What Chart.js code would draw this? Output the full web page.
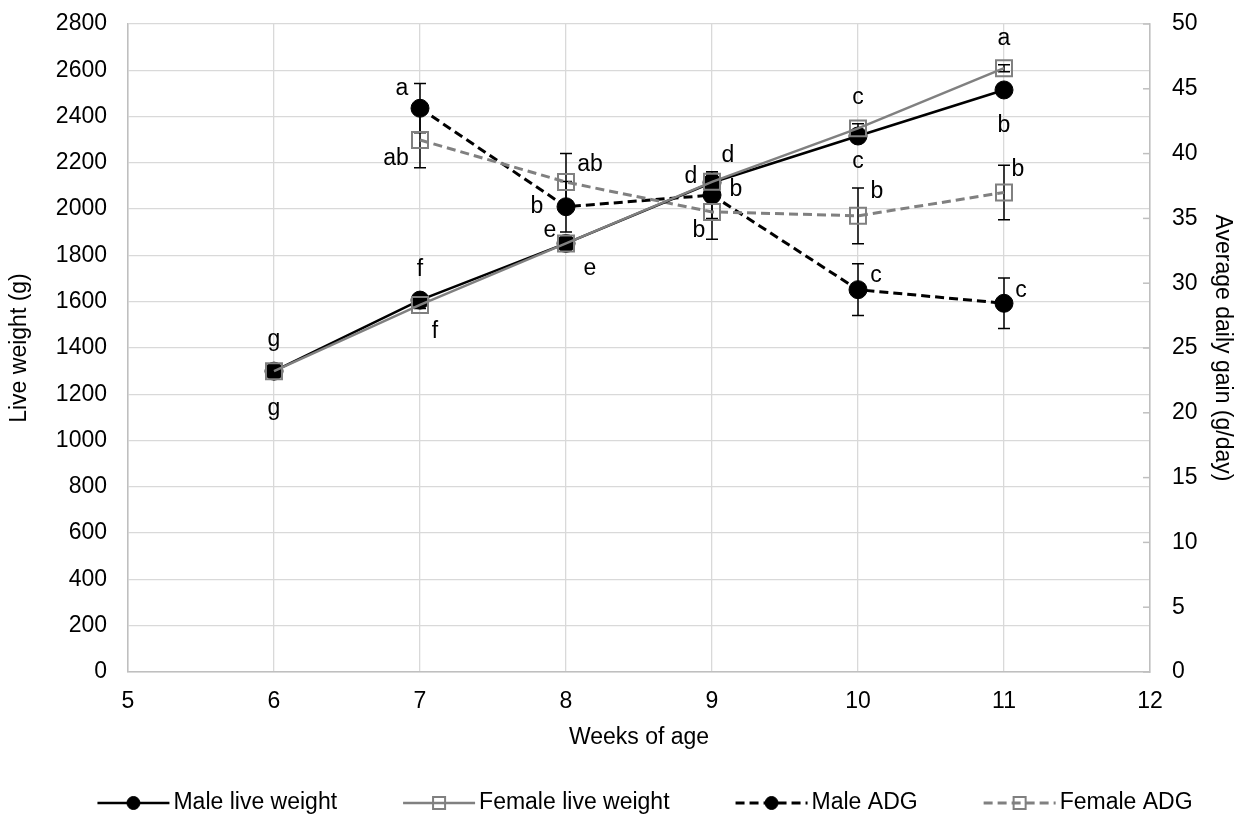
<!DOCTYPE html>
<html>
<head>
<meta charset="utf-8">
<script src="https://cdn.jsdelivr.net/npm/chart.js@4.4.0/dist/chart.umd.min.js"></script>
<style>
  html, body { margin: 0; background: #fff; }
  #wrap { width: 1239px; height: 814px; position: relative; }
</style>
</head>
<body>
<div id="wrap"><canvas id="chart"></canvas></div>
<script>
// --- Data ---
const weeks = [6, 7, 8, 9, 10, 11];
const maleWeight = [1300, 1607, 1852, 2115, 2316, 2515];
const femaleWeight = [1300, 1586, 1852, 2118, 2349, 2609];
const maleWeightErr = [10, 15, 20, 40, 20, 15];
const femaleWeightErr = [10, 15, 20, 30, 20, 15];

const adgWeeks = [7, 8, 9, 10, 11];
const maleAdg = [43.5, 35.9, 36.8, 29.5, 28.45];
const femaleAdg = [41.05, 37.8, 35.5, 35.2, 37.0];
const maleAdgErr = [1.9, 1.95, 1.8, 2.0, 1.95];
const femaleAdgErr = [2.15, 2.2, 2.1, 2.15, 2.1];

// significance letters
const maleWeightLetters = ['g', 'f', 'e', 'd', 'c', 'b'];
const femaleWeightLetters = ['g', 'f', 'e', 'd', 'c', 'a'];
const maleAdgLetters = ['a', 'b', 'b', 'c', 'c'];
const femaleAdgLetters = ['ab', 'ab', 'b', 'b', 'b'];

// where each letter sits relative to its point (px)
const maleWeightLabelPos = [[0, -31], [0, -30], [-16, -13], [-21, -6], [0, 26], [0, 36]];
const femaleWeightLabelPos = [[0, 38], [15, 27], [24, 25], [16, -26], [0, -31], [0, -30]];
const maleAdgLabelPos = [[-18, -20], [-29, 0], [24, -5], [18, -14], [17, -13]];
const femaleAdgLabelPos = [[-24, 19], [24, -17], [-13, 19], [19, -24], [14, -23]];

const FONT_FAMILY = '"Liberation Sans", Arial, sans-serif';
const FONT_SIZE = 23;
const GRAY = '#808080';
const NO_FILL = 'rgba(0,0,0,0)';

Chart.defaults.font.family = FONT_FAMILY;
Chart.defaults.font.size = FONT_SIZE;
Chart.defaults.color = '#000';

function toPoints(xs, ys) {
    return xs.map((x, i) => ({ x: x, y: ys[i] }));
}

const plainTick = v => String(v);

/**
 * Draws vertical error bars under the series.
 */
const errorBarPlugin = {
    id: 'errorBars',
    beforeDatasetsDraw(chart) {
        const ctx = chart.ctx;
        ctx.save();
        ctx.strokeStyle = '#000';
        ctx.lineWidth = 1.5;
        chart.data.datasets.forEach(ds => {
            if (!ds.errors) return;
            const yScale = chart.scales[ds.yAxisID];
            const xScale = chart.scales.x;
            ds.data.forEach((p, i) => {
                const err = ds.errors[i];
                const x = xScale.getPixelForValue(p.x);
                const yTop = yScale.getPixelForValue(p.y + err);
                const yBot = yScale.getPixelForValue(p.y - err);
                ctx.beginPath();
                ctx.moveTo(x, yTop); ctx.lineTo(x, yBot);
                ctx.moveTo(x - 6, yTop); ctx.lineTo(x + 6, yTop);
                ctx.moveTo(x - 6, yBot); ctx.lineTo(x + 6, yBot);
                ctx.stroke();
            });
        });
        ctx.restore();
    }
};

/**
 * Writes the significance letters next to each point.
 */
const letterPlugin = {
    id: 'letters',
    afterDatasetsDraw(chart) {
        const ctx = chart.ctx;
        ctx.save();
        ctx.font = `${FONT_SIZE}px ${FONT_FAMILY}`;
        ctx.fillStyle = '#000';
        ctx.textAlign = 'center';
        ctx.textBaseline = 'middle';
        chart.data.datasets.forEach(ds => {
            if (!ds.letters) return;
            const yScale = chart.scales[ds.yAxisID];
            const xScale = chart.scales.x;
            ds.data.forEach((p, i) => {
                const [dx, dy] = ds.letterPos[i];
                ctx.fillText(ds.letters[i], xScale.getPixelForValue(p.x) + dx, yScale.getPixelForValue(p.y) + dy);
            });
        });
        ctx.restore();
    }
};

/**
 * Small inward tick marks on the right axis, and the legend row at the bottom.
 */
const extrasPlugin = {
    id: 'extras',
    afterDraw(chart) {
        const ctx = chart.ctx;
        const area = chart.chartArea;
        const y1 = chart.scales.y1;
        ctx.save();
        ctx.strokeStyle = '#bfbfbf';
        ctx.lineWidth = 1.5;
        y1.ticks.forEach(t => {
            const y = y1.getPixelForValue(t.value);
            ctx.beginPath();
            ctx.moveTo(area.right - 7, y);
            ctx.lineTo(area.right, y);
            ctx.stroke();
        });

        // legend
        ctx.font = `${FONT_SIZE}px ${FONT_FAMILY}`;
        ctx.textBaseline = 'middle';
        ctx.textAlign = 'left';
        const sampleW = 72, textGap = 4, itemGap = 66, legendY = 803, legendCenter = 645;
        const items = chart.data.datasets.slice().sort((a, b) => a.legendIndex - b.legendIndex);
        const widths = items.map(ds => sampleW + textGap + ctx.measureText(ds.label).width);
        const total = widths.reduce((s, w) => s + w, 0) + itemGap * (items.length - 1);
        let x = legendCenter - total / 2;
        items.forEach((ds, i) => {
            ctx.save();
            ctx.strokeStyle = ds.borderColor;
            ctx.lineWidth = ds.borderWidth;
            ctx.setLineDash(ds.borderDash || []);
            ctx.beginPath();
            ctx.moveTo(x, legendY);
            ctx.lineTo(x + sampleW, legendY);
            ctx.stroke();
            ctx.setLineDash([]);
            ctx.fillStyle = ds.pointBackgroundColor;
            ctx.strokeStyle = ds.pointBorderColor;
            ctx.lineWidth = ds.pointBorderWidth;
            Chart.helpers.drawPoint(ctx, {
                pointStyle: ds.pointStyle,
                radius: ds.pointStyle === 'circle' ? 6.5 : 8.5,
                borderWidth: ds.pointBorderWidth
            }, x + sampleW / 2, legendY);
            ctx.restore();
            ctx.fillStyle = '#000';
            ctx.fillText(ds.label, x + sampleW + textGap, legendY);
            x += widths[i] + itemGap;
        });
        ctx.restore();
    }
};

const ctx = document.getElementById('chart').getContext('2d');
new Chart(ctx, {
    type: 'line',
    data: {
        datasets: [
            {
                label: 'Female live weight',
                legendIndex: 1,
                data: toPoints(weeks, femaleWeight),
                errors: femaleWeightErr,
                letters: femaleWeightLetters,
                letterPos: femaleWeightLabelPos,
                yAxisID: 'y',
                borderColor: GRAY,
                borderWidth: 2.5,
                pointStyle: 'rect',
                pointRadius: 11.3,
                pointBackgroundColor: NO_FILL,
                pointBorderColor: GRAY,
                pointBorderWidth: 2,
                order: 0
            },
            {
                label: 'Male live weight',
                legendIndex: 0,
                data: toPoints(weeks, maleWeight),
                errors: maleWeightErr,
                letters: maleWeightLetters,
                letterPos: maleWeightLabelPos,
                yAxisID: 'y',
                borderColor: '#000',
                borderWidth: 2.5,
                pointStyle: 'circle',
                pointRadius: 9,
                pointBackgroundColor: '#000',
                pointBorderColor: '#000',
                pointBorderWidth: 1,
                order: 1
            },
            {
                label: 'Female ADG',
                legendIndex: 3,
                data: toPoints(adgWeeks, femaleAdg),
                errors: femaleAdgErr,
                letters: femaleAdgLetters,
                letterPos: femaleAdgLabelPos,
                yAxisID: 'y1',
                borderColor: GRAY,
                borderWidth: 3,
                borderDash: [9, 5],
                pointStyle: 'rect',
                pointRadius: 11.3,
                pointBackgroundColor: NO_FILL,
                pointBorderColor: GRAY,
                pointBorderWidth: 2,
                order: 2
            },
            {
                label: 'Male ADG',
                legendIndex: 2,
                data: toPoints(adgWeeks, maleAdg),
                errors: maleAdgErr,
                letters: maleAdgLetters,
                letterPos: maleAdgLabelPos,
                yAxisID: 'y1',
                borderColor: '#000',
                borderWidth: 3,
                borderDash: [9, 5],
                pointStyle: 'circle',
                pointRadius: 9,
                pointBackgroundColor: '#000',
                pointBorderColor: '#000',
                pointBorderWidth: 1,
                order: 3
            }
        ]
    },
    options: {
        responsive: true,
        maintainAspectRatio: false,
        animation: false,
        layout: { padding: { top: 24, bottom: 54, left: 0, right: 0 } },
        plugins: {
            legend: { display: false },
            tooltip: { enabled: false }
        },
        scales: {
            x: {
                type: 'linear',
                min: 5,
                max: 12,
                ticks: { stepSize: 1, padding: 16, callback: plainTick },
                grid: { color: '#d9d9d9', lineWidth: 1.3, drawTicks: false },
                border: { color: '#bfbfbf', width: 1.5 },
                title: { display: true, text: 'Weeks of age', padding: { top: 0, bottom: 9 } },
                afterFit: s => { s.height = 88; }
            },
            y: {
                position: 'left',
                min: 0,
                max: 2800,
                ticks: { stepSize: 200, padding: 0, callback: plainTick },
                grid: { color: '#d9d9d9', lineWidth: 1.3, drawTicks: true, tickLength: 21, tickColor: NO_FILL },
                border: { color: '#bfbfbf', width: 1.5 },
                title: { display: true, text: 'Live weight (g)', padding: { top: 6, bottom: 0 } },
                afterFit: s => { s.width = 128; }
            },
            y1: {
                position: 'right',
                min: 0,
                max: 50,
                ticks: { stepSize: 5, padding: 0, callback: plainTick },
                grid: { drawOnChartArea: false, drawTicks: true, tickLength: 22, tickColor: NO_FILL },
                border: { color: '#bfbfbf', width: 1.5 },
                title: { display: true, text: 'Average daily gain (g/day)', padding: { top: 3, bottom: 0 } },
                afterFit: s => { s.width = 89; }
            }
        }
    },
    plugins: [errorBarPlugin, letterPlugin, extrasPlugin]
});
</script>
</body>
</html>
